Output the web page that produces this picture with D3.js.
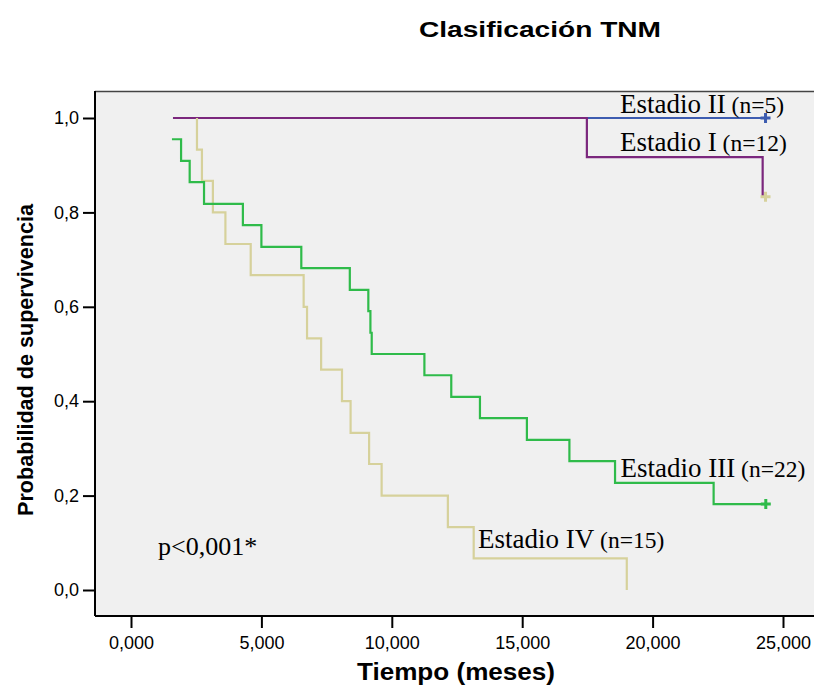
<!DOCTYPE html>
<html>
<head>
<meta charset="utf-8">
<script src="https://cdn.jsdelivr.net/npm/d3@7"></script>
<style>
	body { margin: 0; background: #ffffff; }
	svg { display: block; }
	.tick-label { font-family: "Liberation Sans", Arial, sans-serif; font-size: 18px; fill: #000; }
	.axis-title { font-family: "Liberation Sans", Arial, sans-serif; font-weight: bold; fill: #000; }
	.curve-label { font-family: "Liberation Serif", "Times New Roman", serif; fill: #000; }
</style>
</head>
<body>
<svg id="viz"></svg>
<script>
// Tick values (time in months, survival probability)
const xTicks = [0, 5, 10, 15, 20, 25];
const yTicks = [0, 0.2, 0.4, 0.6, 0.8, 1.0];

// Estadio I (n=12)
const stage1Times = [1.61, 17.48, 24.22, 24.33];
const stage1Surv  = [1.0, 0.917, 0.833, 0.833];

// Estadio II (n=5)
const stage2Times = [1.61, 24.33];
const stage2Surv  = [1.0, 1.0];

// Estadio III (n=22)
const stage3Times = [1.57, 1.92, 2.25, 2.80, 4.29, 5.00, 6.53, 8.39, 9.10, 9.18, 9.23,
	11.25, 12.28, 13.38, 15.18, 16.81, 18.56, 22.34, 24.34];
const stage3Surv  = [0.955, 0.909, 0.864, 0.818, 0.773, 0.727, 0.682, 0.636, 0.591, 0.545, 0.5,
	0.455, 0.409, 0.364, 0.318, 0.273, 0.227, 0.182, 0.182];

// Estadio IV (n=15)
const stage4Times = [2.53, 2.53, 2.72, 3.14, 3.62, 4.59, 6.62, 6.75, 7.29, 8.09, 8.42,
	9.13, 9.61, 12.15, 13.14, 19.01];
const stage4Surv  = [1.0, 0.933, 0.867, 0.8, 0.733, 0.667, 0.6, 0.533, 0.467, 0.4, 0.333,
	0.267, 0.2, 0.133, 0.067, 0];

// censored points: [time, survival]
const stage1Censor = [[24.33, 0.833]];
const stage2Censor = [[24.33, 1.0]];
const stage3Censor = [[24.34, 0.182]];

let drawEverything = function() {

	const width = 814;
	const height = 687;

	// plot box (grey frame), runs off the right edge like the original
	const box = { left: 95, top: 91, right: 830, bottom: 616 };

	const svg = d3.select("body").select("svg#viz")
		.attr("width", width)
		.attr("height", height);

	const locale = d3.formatLocale({ decimal: ",", thousands: ".", grouping: [3], currency: ["", ""] });

	const x = d3.scaleLinear()
		.domain([0, 25])
		.range([131, 783]);

	const y = d3.scaleLinear()
		.domain([0, 1])
		.range([590, 118]);

	const series = [
		{ key: "II", times: stage2Times, surv: stage2Surv, color: "#3d5cb0" },
		{ key: "I", times: stage1Times, surv: stage1Surv, color: "#7b277d" },
		{ key: "IV", times: stage4Times, surv: stage4Surv, color: "#d6d19b" },
		{ key: "III", times: stage3Times, surv: stage3Surv, color: "#2fbb4a" }
	];

	const censors = [
		{ pts: stage2Censor, color: "#3d5cb0" },
		{ pts: stage1Censor, color: "#d6d19b" },
		{ pts: stage3Censor, color: "#2fbb4a" }
	];

	drawFrame();
	drawAxes();
	drawCurves();
	drawLabels();

	function drawFrame() {
		svg.append("rect")
			.attr("x", box.left)
			.attr("y", box.top)
			.attr("width", box.right - box.left)
			.attr("height", box.bottom - box.top)
			.attr("fill", "#f0f0f0");

		svg.append("line")
			.attr("x1", box.left).attr("x2", box.right)
			.attr("y1", box.top + 0.5).attr("y2", box.top + 0.5)
			.attr("stroke", "#444").attr("stroke-width", 1.5);
	}

	function drawAxes() {
		let yAxis = d3.axisLeft(y)
			.tickValues(yTicks)
			.tickSize(12)
			.tickPadding(4)
			.tickFormat(locale.format(".1f"));

		let gy = svg.append("g")
			.attr("id", "y-axis")
			.attr("transform", translate(box.left, 0))
			.call(yAxis);
		gy.select(".domain").remove();
		gy.append("line")
			.attr("x1", 0).attr("x2", 0)
			.attr("y1", box.top).attr("y2", box.bottom)
			.attr("stroke", "#000").attr("stroke-width", 2);

		let xAxis = d3.axisBottom(x)
			.tickValues(xTicks)
			.tickSize(12)
			.tickPadding(8)
			.tickFormat(locale.format(".3f"));

		let gx = svg.append("g")
			.attr("id", "x-axis")
			.attr("transform", translate(0, box.bottom))
			.call(xAxis);
		gx.select(".domain").remove();
		gx.append("line")
			.attr("x1", box.left).attr("x2", box.right)
			.attr("y1", 0).attr("y2", 0)
			.attr("stroke", "#000").attr("stroke-width", 2);

		svg.selectAll(".tick line").attr("stroke", "#000").attr("stroke-width", 2);
		svg.selectAll(".tick text")
			.attr("class", "tick-label")
			.attr("font-family", null)
			.attr("font-size", null);

		// titles
		svg.append("text")
			.attr("class", "axis-title")
			.attr("x", 540).attr("y", 37)
			.attr("text-anchor", "middle")
			.attr("font-size", 22)
			.attr("textLength", 242)
			.attr("lengthAdjust", "spacingAndGlyphs")
			.text("Clasificación TNM");

		svg.append("text")
			.attr("class", "axis-title")
			.attr("x", 456).attr("y", 680)
			.attr("text-anchor", "middle")
			.attr("font-size", 23)
			.attr("textLength", 198)
			.attr("lengthAdjust", "spacingAndGlyphs")
			.text("Tiempo (meses)");

		svg.append("text")
			.attr("class", "axis-title")
			.attr("transform", translate(33, 360) + " rotate(-90)")
			.attr("text-anchor", "middle")
			.attr("font-size", 22.5)
			.attr("textLength", 312)
			.attr("lengthAdjust", "spacingAndGlyphs")
			.text("Probabilidad de supervivencia");
	}

	function drawCurves() {
		let line = d3.line()
			.x(d => x(d[0]))
			.y(d => y(d[1]))
			.curve(d3.curveStepAfter);

		svg.append("g").attr("id", "curves")
			.selectAll("path")
			.data(series)
			.join("path")
			.attr("fill", "none")
			.attr("stroke", d => d.color)
			.attr("stroke-width", 2.2)
			.attr("d", d => line(d.times.map((t, i) => [t, d.surv[i]])));

		// censor marks
		let g = svg.append("g").attr("id", "censors");
		censors.forEach(function(c) {
			c.pts.forEach(function(p) {
				let cx = x(p[0]), cy = y(p[1]);
				g.append("path")
					.attr("d", "M" + (cx - 5) + "," + cy + "H" + (cx + 5) + "M" + cx + "," + (cy - 5) + "V" + (cy + 5))
					.attr("stroke", c.color)
					.attr("stroke-width", 3)
					.attr("fill", "none");
			});
		});
	}

	function drawLabels() {
		const labels = [
			{ main: "Estadio II", n: " (n=5)", x: 620, y: 113 },
			{ main: "Estadio I", n: " (n=12)", x: 620, y: 151 },
			{ main: "Estadio III", n: " (n=22)", x: 620.5, y: 477 },
			{ main: "Estadio IV", n: " (n=15)", x: 478, y: 548 }
		];

		let t = svg.append("g").attr("id", "labels")
			.selectAll("text")
			.data(labels)
			.join("text")
			.attr("class", "curve-label")
			.attr("x", d => d.x)
			.attr("y", d => d.y);
		t.append("tspan").attr("font-size", 27).text(d => d.main);
		t.append("tspan").attr("font-size", 23.5).text(d => d.n);

		svg.append("text")
			.attr("class", "curve-label")
			.attr("x", 158).attr("y", 555)
			.attr("font-size", 26)
			.text("p<0,001*");
	}
};

let translate = function(x, y) {
	return 'translate(' + x + ',' + y + ')';
}

drawEverything();
</script>
</body>
</html>
